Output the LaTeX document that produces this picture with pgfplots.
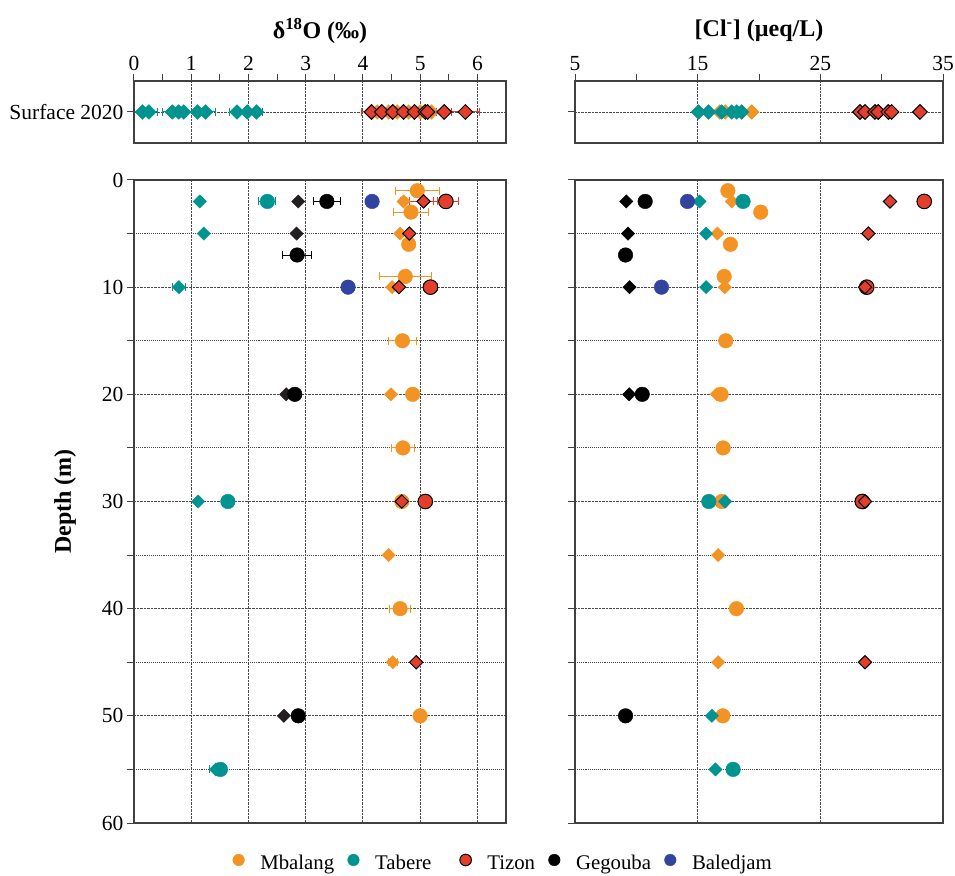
\documentclass[border=0pt]{standalone}
\usepackage{pgfplots}
\pgfplotsset{compat=1.18}
\usepackage{fontspec}
\setmainfont{Liberation Serif}
\definecolor{cOr}{HTML}{F39323}
\definecolor{cTe}{HTML}{009490}
\definecolor{cRd}{HTML}{E33D2B}
\definecolor{cBl}{HTML}{3343A0}
\definecolor{cGd}{HTML}{231F20}
\pgfplotsset{
  base/.style={scale only axis, axis line style={black!75, line width=1.1pt},
    tick style={black!75, line width=1pt}, major tick length=7pt, minor tick length=7pt,
    tick align=outside, /pgf/number format/assume math mode=true,
    tick label style={font=\fontsize{21.5}{23}\selectfont},
    grid style={black!70, densely dotted, line width=0.9pt},
    minor grid style={black!70, densely dotted, line width=0.9pt}},
  eb/.style={/pgfplots/error bars/x dir=both, /pgfplots/error bars/x explicit,
    /pgfplots/error bars/error bar style={line width=1pt},
    /pgfplots/error bars/error mark options={rotate=90, mark size=4pt, line width=1pt}},
  cir/.style={only marks, mark=*, mark size=7.3pt, eb},
  dia/.style={only marks, mark=square*, mark size=4.7pt, mark options={rotate=45}, eb},
  sdia/.style={only marks, mark=square*, mark size=5.2pt, mark options={rotate=45}, eb},
}
\begin{document}
\begin{tikzpicture}
\path[use as bounding box] (0,0) rectangle (955pt,875pt);
% ---------------- top left ----------------
\begin{axis}[base, at={(134pt,794pt)}, anchor=north west, width=372pt, height=62pt,
  xmin=0, xmax=6.5, ymin=-1, ymax=1,
  xtick={0,...,6}, minor xtick={0.5,1.5,...,5.5}, xtick pos=upper, xticklabel pos=upper,
  ytick={0}, yticklabels={Surface 2020}, ytick pos=lower,
  xmajorgrids, ymajorgrids,
  title={\textbf{δ\textsuperscript{18}O (‰)}},
  title style={at={(0.5,1)}, anchor=center, yshift=44pt, font=\fontsize{24}{26}\selectfont}]
\addplot[sdia, color=cOr] table[x=x,y=y,x error=e]{
x y e
4.25 0 0.05
4.45 0 0.05
4.60 0 0.05
4.80 0 0.05
5.00 0 0.05
5.20 0 0.05
};
\addplot[sdia, color=cTe] table[x=x,y=y,x error=e]{
x y e
0.15 0 0.05
0.26 0 0.15
0.67 0 0.18
0.78 0 0.05
0.87 0 0.05
1.11 0 0.05
1.25 0 0.18
1.80 0 0.14
1.98 0 0.05
2.14 0 0.10
};
\addplot[sdia, color=cRd, mark options={rotate=45, draw=black, fill=cRd, line width=1pt}] table[x=x,y=y,x error=e]{
x y e
4.15 0 0.17
4.33 0 0.05
4.52 0 0.05
4.71 0 0.05
4.90 0 0.05
5.09 0 0.05
5.13 0 0.05
5.42 0 0.13
5.79 0 0.24
};
\end{axis}
% ---------------- top right ----------------
\begin{axis}[base, at={(575pt,794pt)}, anchor=north west, width=368pt, height=62pt,
  xmin=5, xmax=35, ymin=-1, ymax=1,
  xtick={5,15,25,35}, minor xtick={10,20,30}, xtick pos=upper, xticklabel pos=upper,
  ytick={0}, yticklabels={}, ytick pos=lower,
  xmajorgrids, ymajorgrids,
  title={\textbf{[Cl\textsuperscript{-}] (µeq/L)}},
  title style={at={(0.5,1)}, anchor=center, yshift=44pt, font=\fontsize{24}{26}\selectfont}]
\addplot[sdia, color=cOr] table[x=x,y=y,x error=e]{
x y e
16.80 0 0
17.24 0 0
18.60 0 0
19.41 0 0
};
\addplot[sdia, color=cTe] table[x=x,y=y,x error=e]{
x y e
15.07 0 0
15.88 0 0
16.97 0 0
17.78 0 0
18.19 0 0
18.60 0 0
};
\addplot[sdia, color=cRd, mark options={rotate=45, draw=black, fill=cRd, line width=1pt}] table[x=x,y=y,x error=e]{
x y e
28.23 0 0
28.64 0 0
29.45 0 0
29.72 0 0
30.54 0 0
30.81 0 0
33.12 0 0
};
\end{axis}
% ---------------- main left ----------------
\begin{axis}[base, at={(134pt,695pt)}, anchor=north west, width=372pt, height=643pt,
  xmin=0, xmax=6.5, ymin=0, ymax=60, y dir=reverse,
  xtick={1,...,6}, xticklabels={}, x tick style={draw=none},
  ytick={0,10,...,60}, minor ytick={5,15,...,55}, ytick pos=lower,
  xmajorgrids, ymajorgrids, yminorgrids,
  ylabel={\textbf{Depth (m)}},
  ylabel style={at={(rel axis cs:-0.1855,0.5)}, anchor=center, font=\fontsize{24}{26}\selectfont},
  legend columns=5,
  legend style={at={(0.972,-0.0622)}, anchor=center, draw=none, fill=none,
    font=\fontsize{20.8}{22}\selectfont, nodes={inner xsep=0pt}},
  legend image code/.code={\draw[#1] plot coordinates {(0pt,3pt)}; \path (-19pt,3pt) (21.5pt,3pt);}]
\addlegendimage{only marks, mark=*, mark size=5.8pt, color=cOr}
\addlegendentry{Mbalang}
\addlegendimage{only marks, mark=*, mark size=5.8pt, color=cTe}
\addlegendentry{Tabere\hspace*{15pt}}
\addlegendimage{only marks, mark=*, mark size=5.8pt, color=cRd, mark options={draw=black, line width=1pt}}
\addlegendentry{Tizon}
\addlegendimage{only marks, mark=*, mark size=5.8pt, color=black}
\addlegendentry{Gegouba}
\addlegendimage{only marks, mark=*, mark size=5.8pt, color=cBl}
\addlegendentry{Baledjam}
\addplot[cir, color=cOr, forget plot] table[x=x,y=y,x error=e]{
x y e
4.95 1 0.38
4.84 3 0.30
4.80 6 0.06
4.74 9 0.45
4.69 15 0.24
4.87 20 0.06
4.70 25 0.20
4.68 30 0.06
4.65 40 0.19
5.00 50 0.08
};
\addplot[dia, color=cOr, forget plot] table[x=x,y=y,x error=e]{
x y e
4.71 2 0.05
4.65 5 0.05
4.51 10 0.05
4.49 20 0.05
4.45 35 0.05
4.52 45 0.08
};
\addplot[dia, color=cTe, forget plot] table[x=x,y=y,x error=e]{
x y e
1.15 2 0
1.22 5 0
0.785 10 0.11
1.12 30 0
1.43 55 0.11
};
\addplot[cir, color=cTe, forget plot] table[x=x,y=y,x error=e]{
x y e
2.33 2 0.15
1.64 30 0
1.51 55 0
};
\addplot[cir, color=cRd, mark options={draw=black, fill=cRd, line width=1pt}, forget plot] table[x=x,y=y,x error=e]{
x y e
5.45 2 0.22
5.18 10 0.13
5.09 30 0.10
};
\addplot[dia, color=cRd, mark options={rotate=45, draw=black, fill=cRd, line width=1pt}, forget plot] table[x=x,y=y,x error=e]{
x y e
5.06 2 0.24
4.81 5 0
4.63 10 0.05
4.68 30 0
4.93 45 0
};
\addplot[dia, color=cGd, forget plot] table[x=x,y=y,x error=e]{
x y e
2.87 2 0
2.84 5 0
2.66 20 0
2.62 50 0
};
\addplot[cir, color=black, forget plot] table[x=x,y=y,x error=e]{
x y e
3.37 2 0.23
2.85 7 0.26
2.81 20 0
2.87 50 0
};
\addplot[cir, color=cBl, forget plot] table[x=x,y=y,x error=e]{
x y e
4.16 2 0
3.74 10 0
};
\end{axis}
% ---------------- main right ----------------
\begin{axis}[base, at={(575pt,695pt)}, anchor=north west, width=368pt, height=643pt,
  xmin=5, xmax=35, ymin=0, ymax=60, y dir=reverse,
  xtick={15,25}, xticklabels={}, x tick style={draw=none},
  ytick={0,10,...,60}, minor ytick={5,15,...,55}, yticklabels={}, ytick pos=lower,
  xmajorgrids, ymajorgrids, yminorgrids]
\addplot[cir, color=cOr] table[x=x,y=y,x error=e]{
x y e
17.46 1 0
20.14 3 0
17.67 6 0
17.16 9 0
17.29 15 0
16.91 20 0
17.08 25 0
16.97 30 0
18.16 40 0
17.05 50 0
};
\addplot[dia, color=cOr] table[x=x,y=y,x error=e]{
x y e
17.78 2 0
16.61 5 0
17.21 10 0
16.56 20 0
16.67 35 0
16.67 45 0
};
\addplot[cir, color=cTe] table[x=x,y=y,x error=e]{
x y e
18.70 2 0
15.91 30 0
17.89 55 0
};
\addplot[dia, color=cTe] table[x=x,y=y,x error=e]{
x y e
15.15 2 0
15.69 5 0
15.69 10 0
17.24 30 0
16.16 50 0
16.45 55 0
};
\addplot[cir, color=cRd, mark options={draw=black, fill=cRd, line width=1pt}] table[x=x,y=y,x error=e]{
x y e
33.47 2 0
28.78 10 0
28.42 30 0
};
\addplot[dia, color=cRd, mark options={rotate=45, draw=black, fill=cRd, line width=1pt}] table[x=x,y=y,x error=e]{
x y e
30.68 2 0
28.91 5 0
28.64 10 0
28.64 30 0
28.64 45 0
};
\addplot[dia, color=black] table[x=x,y=y,x error=e]{
x y e
9.18 2 0
9.32 5 0
9.45 10 0
9.42 20 0
};
\addplot[cir, color=black] table[x=x,y=y,x error=e]{
x y e
10.72 2 0
9.12 7 0
10.48 20 0
9.12 50 0
};
\addplot[cir, color=cBl] table[x=x,y=y,x error=e]{
x y e
14.17 2 0
12.05 10 0
};
\end{axis}
\end{tikzpicture}
\end{document}
